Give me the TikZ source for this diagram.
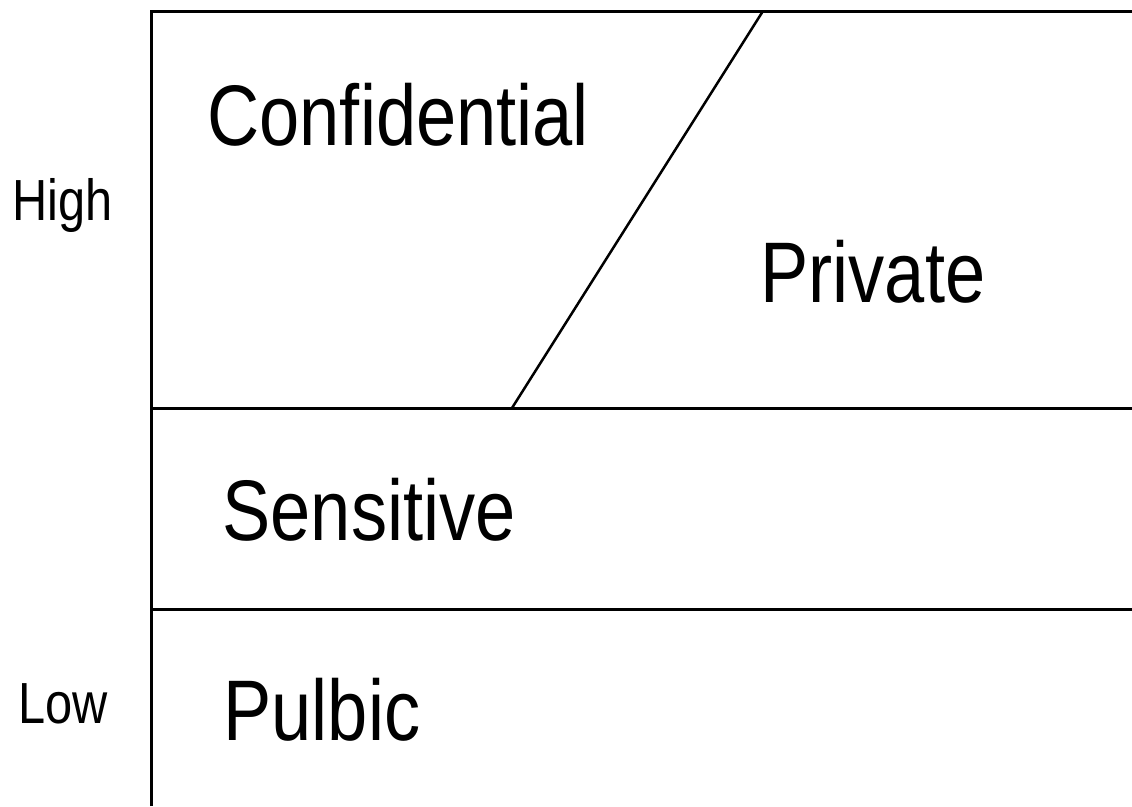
\documentclass[tikz,border=0pt]{standalone}
\usepackage{fontspec}
\setmainfont{Liberation Sans}[FakeStretch=0.84]

\begin{document}
\begin{tikzpicture}[x=1pt,y=-1pt,line width=3pt,
  level/.style={anchor=base west,inner sep=0pt,font=\fontsize{86}{90}\selectfont},
  scale label/.style={anchor=base west,inner sep=0pt,font=\fontsize{58}{62}\selectfont}]
\useasboundingbox (0,0) rectangle (1132,806);
\coordinate (bl) at (151,806);
\coordinate (tl) at (151,11);
\coordinate (tr) at (1132,11);
\coordinate (ml) at (151,408);
\coordinate (mr) at (1132,408);
\coordinate (ll) at (151,609);
\coordinate (lr) at (1132,609);
\coordinate (cut top) at (763,11);
\coordinate (cut bottom) at (512,408);
\draw (bl) -- (tl) -- (tr);
\draw (ml) -- (mr);
\draw (ll) -- (lr);
\draw[line width=2.5pt] (cut bottom) -- (cut top);
\node[level] (conf) at (206,145) {Confidential};
\node[level] (priv) at (759,302) {Private};
\node[level] (sens) at (221,540) {Sensitive};
\node[level] (pub) at (222,740) {Pulbic};
\node[scale label] (high) at (11,220) {High};
\node[scale label] (low) at (17,723) {Low};
\end{tikzpicture}
\end{document}
